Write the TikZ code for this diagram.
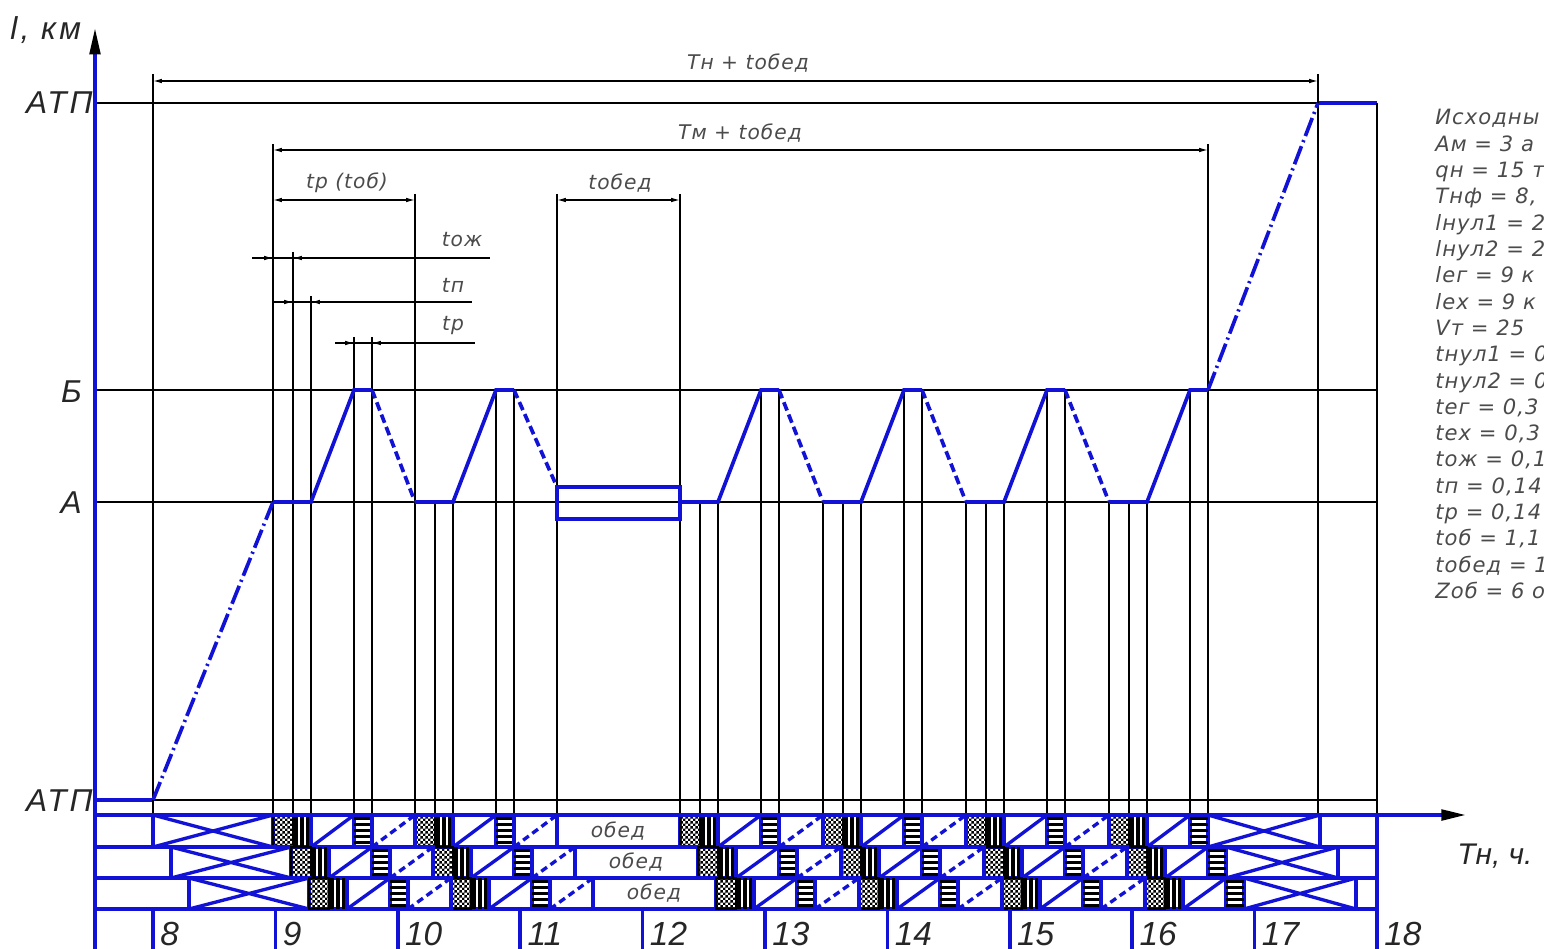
\documentclass[tikz,border=0pt]{standalone}
\usepackage{fontspec}
\setmainfont{Liberation Sans}
\newfontfamily\gostbig[LetterSpace=10]{Liberation Sans}
\newfontfamily\gost[LetterSpace=5]{DejaVu Sans}
\usetikzlibrary{arrows.meta,patterns}

\pgfdeclarepatternformonly{finechecker}{\pgfpointorigin}{\pgfqpoint{2.8pt}{2.8pt}}{\pgfqpoint{2.8pt}{2.8pt}}
{
  \pgfpathrectangle{\pgfpointorigin}{\pgfqpoint{1.4pt}{1.4pt}}
  \pgfpathrectangle{\pgfqpoint{1.4pt}{1.4pt}}{\pgfqpoint{1.4pt}{1.4pt}}
  \pgfusepath{fill}
}

\definecolor{plotblue}{RGB}{18,18,215}
\definecolor{inkgray}{RGB}{75,75,75}

\tikzset{
  axisline/.style={plotblue, line width=2pt},
  helpline/.style={black, line width=0.7pt},
  runline/.style={plotblue, line width=2.1pt},
  backline/.style={runline, dash pattern=on 5pt off 2.5pt},
  zeroline/.style={runline, dash pattern=on 11pt off 2.5pt on 1.2pt off 2.5pt},
  cellline/.style={plotblue, line width=1.9pt},
  celldash/.style={cellline, dash pattern=on 4pt off 2.5pt},
  dimline/.style={helpline, {Latex[length=5pt,width=2.6pt]}-{Latex[length=5pt,width=2.6pt]}},
  tipline/.style={helpline, -{Latex[length=5pt,width=2.6pt]}},
  dimlabel/.style={font=\gost\itshape\fontsize{11.5}{11.5}\selectfont, text=inkgray, inner sep=0pt},
  levlabel/.style={font=\gostbig\itshape\fontsize{18}{18}\selectfont, text=black!85, inner sep=0pt},
  hourlabel/.style={font=\itshape\fontsize{19}{19}\selectfont, text=black!85, anchor=base west, inner sep=0pt},
  datalabel/.style={font=\gost\itshape\fontsize{12}{12}\selectfont, text=inkgray, anchor=base west, inner sep=0pt},
  lunchlabel/.style={font=\gost\itshape\fontsize{11.5}{11.5}\selectfont, text=inkgray, inner sep=0pt},
}

\begin{document}
\begin{tikzpicture}[x=0.02cm, y=-0.02cm]
\useasboundingbox (0,0) rectangle (1544,949);
\clip (0,0) rectangle (1544,949);

%% level lines
\draw[helpline] (95,103) -- (1377,103);    %% ATP
\draw[helpline] (95,390) -- (1377,390);    %% B
\draw[helpline] (95,502) -- (1377,502);    %% A
\draw[helpline] (153,800) -- (1377,800);   %% ATP (start)
\draw[runline] (95,800) -- (153,800);
\draw[runline] (1318,103) -- (1377,103);

%% extension lines
\draw[helpline] (153,74) -- (153,815);
\draw[helpline] (1318,74) -- (1318,815);
\draw[helpline] (1377,103) -- (1377,815);
\draw[helpline] (273,144) -- (273,815);
\draw[helpline] (1208,144) -- (1208,815);
\draw[helpline] (415,194) -- (415,815);
\draw[helpline] (557,194) -- (557,815);
\draw[helpline] (680,194) -- (680,815);
\draw[helpline] (293,252) -- (293,815);
\draw[helpline] (311,296) -- (311,815);
\draw[helpline] (354,337) -- (354,815);
\draw[helpline] (372,337) -- (372,815);
\foreach \c in {415,680,823,966,1109}{
  \draw[helpline] (\c+20,502) -- (\c+20,815);
  \draw[helpline] (\c+38,502) -- (\c+38,815);
  \draw[helpline] (\c+81,390) -- (\c+81,815);
  \draw[helpline] (\c+99,390) -- (\c+99,815);
}
\draw[helpline] (823,502) -- (823,815);
\draw[helpline] (966,502) -- (966,815);
\draw[helpline] (1109,502) -- (1109,815);

%% dimensions
\draw[dimline] (153,81) -- (1318,81);
\node[dimlabel] (tn) at (748,63) {Тн + tобед};
\draw[dimline] (273,150) -- (1208,150);
\node[dimlabel] (tm) at (740,133) {Тм + tобед};
\draw[dimline] (273,200) -- (415,200);
\node[dimlabel] (tob) at (347,183) {tр (tоб)};
\draw[dimline] (557,200) -- (680,200);
\node[dimlabel] (tobed) at (620,183) {tобед};
\draw[helpline] (252,258) -- (490,258);
\draw[tipline] (255,258) -- (273,258);
\draw[tipline] (311,258) -- (293,258);
\node[dimlabel] (tozh) at (462,240) {tож};
\draw[helpline] (273,302) -- (472,302);
\draw[tipline] (275,302) -- (293,302);
\draw[tipline] (329,302) -- (311,302);
\node[dimlabel] (tp) at (453,285) {tп};
\draw[helpline] (335,343) -- (475,343);
\draw[tipline] (336,343) -- (354,343);
\draw[tipline] (390,343) -- (372,343);
\node[dimlabel] (tr) at (453,326) {tр};

%% route of the vehicle
\draw[zeroline] (153,800) -- (273,502);
\foreach \c/\e/\h in {273/415/502, 415/557/487, 680/823/502, 823/966/502, 966/1109/502}{
  \draw[runline] (\c,502) -- (\c+38,502) -- (\c+81,390) -- (\c+99,390);
  \draw[backline] (\c+99,390) -- (\e,\h);
}
\draw[runline] (557,487) rectangle (680,519);
\draw[runline] (1109,502) -- (1147,502) -- (1190,390) -- (1208,390);
\draw[zeroline] (1208,390) -- (1318,103);

%% schedule of the three vehicles
\foreach \y in {847,878,909} \draw[cellline] (95,\y) -- (1377,\y);
\draw[cellline] (1377,815) -- (1377,949);
\foreach \d/\t/\b in {0/815/847, 18/847/878, 36/878/909}{
  \draw[cellline] (153+\d,\t) rectangle (273+\d,\b);
  \draw[cellline] (153+\d,\t) -- (273+\d,\b) (153+\d,\b) -- (273+\d,\t);
  \draw[cellline] (557+\d,\t) rectangle (680+\d,\b);
  \node[lunchlabel] (lunch\d) at (618+\d,{(\t+\b)/2}) {обед};
  \draw[cellline] (1208+\d,\t) rectangle (1320+\d,\b);
  \draw[cellline] (1208+\d,\t) -- (1320+\d,\b) (1208+\d,\b) -- (1320+\d,\t);
  \foreach \c in {273,415,680,823,966,1109}{
    \fill[pattern=finechecker] (\c+\d,\t) rectangle (\c+20+\d,\b);
    \draw[black, line width=0.8pt] (\c+\d,\t) rectangle (\c+20+\d,\b);
    \foreach \k in {0,1,2}
      \fill (\c+\d+21+\k*6,\t) rectangle (\c+\d+24.5+\k*6,\b);
    \draw[cellline] (\c+38+\d,\t) rectangle (\c+81+\d,\b);
    \draw[cellline] (\c+38+\d,\b) -- (\c+81+\d,\t);
    \foreach \k in {0,...,4}
      \fill (\c+\d+81,\t+2+\k*6) rectangle (\c+\d+99,\t+5+\k*6);
  }
  \foreach \c/\e in {273/415, 415/557, 680/823, 823/966, 966/1109}{
    \draw[cellline] (\c+99+\d,\t) rectangle (\e+\d,\b);
    \draw[celldash] (\c+99+\d,\b) -- (\e+\d,\t);
  }
}

%% hour ticks
\foreach \h [count=\i from 0] in {8,...,18}{
  \draw[axisline] (153+\i*122.4,909) -- (153+\i*122.4,949);
  \node[hourlabel] (h\h) at (160+\i*122.4,945) {\h};
}

%% axes
\draw[axisline, -{Triangle[length=15pt,width=6pt,color=black]}] (95,949) -- (95,28);
\draw[axisline, -{Triangle[length=14pt,width=6pt,color=black]}] (95,815) -- (1466,815);

%% axis labels
\node[levlabel, anchor=base west] (lkm) at (10,40) {l, км};
\node[levlabel, anchor=base east] (atp1) at (93,114) {АТП};
\node[levlabel, anchor=base east] (lvb) at (82,402) {Б};
\node[levlabel, anchor=base east] (lva) at (82,513) {А};
\node[levlabel, anchor=base east] (atp0) at (93,811) {АТП};
\node[levlabel, font=\itshape\fontsize{17}{17}\selectfont, anchor=base west] (tnh) at (1457,864) {Тн, ч.};

%% initial data
\foreach \s [count=\i from 0] in {Исходны, Ам = 3 а, qн = 15 т, {Тнф = 8,},
    lнул1 = 2, lнул2 = 2, lег = 9 к, lех = 9 к, Vт = 25, tнул1 = 0,
    tнул2 = 0, {tег = 0,3}, {tех = 0,3}, {tож = 0,1}, {tп = 0,14},
    {tр = 0,14}, {tоб = 1,1}, tобед = 1, Zоб = 6 о}
  \node[datalabel] (data\i) at (1435,125+\i*26.3) {\s};
\end{tikzpicture}
\end{document}
